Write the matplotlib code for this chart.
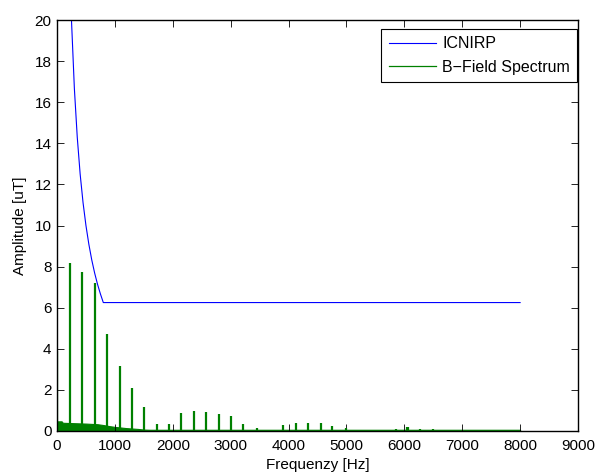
import matplotlib
matplotlib.use("Agg")
import matplotlib.pyplot as plt

plt.rcParams['font.family'] = ['Liberation Sans', 'DejaVu Sans']

# ICNIRP reference level
icnirp_freq = [250, 300, 350, 400, 450, 500, 550, 600, 650, 700, 750, 800, 8000]
icnirp_amp = [20, 16.67, 14.29, 12.5, 11.11, 10, 9.09, 8.33, 7.69, 7.14, 6.67, 6.25, 6.25]

# spectral lines of the measured B-field
peak_freq = [0, 219, 430, 650, 860, 1080, 1295, 1510, 1720, 1940, 2150, 2365, 2580,
             2790, 3010, 3220, 3450, 3900, 4125, 4330, 4555, 4755, 5000, 5850, 6040,
             6070, 6270, 6500]
peak_amp = [3.9, 8.18, 7.72, 7.18, 4.73, 3.15, 2.1, 1.17, 0.34, 0.35, 0.86, 0.97, 0.92,
            0.81, 0.74, 0.34, 0.16, 0.3, 0.38, 0.38, 0.38, 0.26, 0.15, 0.08, 0.2,
            0.2, 0.12, 0.08]

# noise floor of the spectrum
floor_freq = [0, 80, 100, 300, 500, 700, 800, 900, 1000, 1100, 1200, 1300, 1400, 1500, 1600, 8000]
floor_amp = [0.47, 0.47, 0.40, 0.38, 0.36, 0.33, 0.29, 0.24, 0.2, 0.17, 0.14, 0.12, 0.1, 0.07, 0.06, 0.06]

green = '#008000'

fig = plt.figure(figsize=(6.02, 4.74), dpi=100)
ax = fig.add_axes([57 / 602, 1 - 431 / 474, (578 - 57) / 602, (431 - 20) / 474])

ax.plot(icnirp_freq, icnirp_amp, color='blue', linewidth=0.8, label='ICNIRP')

ax.fill_between(floor_freq, floor_amp, 0, color=green, linewidth=0.8, edgecolor=green)
ax.vlines(peak_freq, 0, peak_amp, color=green, linewidth=1.6)
ax.plot([], [], color=green, linewidth=0.9, label='B\u2212Field Spectrum')

ax.set_xlim(0, 9000)
ax.set_ylim(0, 20)
ax.set_xticks(range(0, 9001, 1000))
ax.set_yticks(range(0, 21, 2))
ax.tick_params(direction='in', top=True, right=True, length=5, width=0.6, labelsize=11)
ax.tick_params(axis='x', pad=6)
ax.tick_params(axis='y', pad=4)
for s in ax.spines.values():
    s.set_linewidth(1.0)

ax.set_xlabel('Frequenzy [Hz]', fontsize=11, labelpad=3)
ax.set_ylabel('Amplitude [uT]', fontsize=11, labelpad=5)

leg = ax.legend(loc='upper right', bbox_to_anchor=(577 / 602, 1 - 29 / 474),
                bbox_transform=fig.transFigure, borderaxespad=0, fancybox=False,
                framealpha=1, edgecolor='black', fontsize=11.5, handlelength=3.0,
                handletextpad=0.35, borderpad=0.45, labelspacing=0.55)
leg.get_frame().set_linewidth(0.8)

fig.savefig('out.png', dpi=100)
